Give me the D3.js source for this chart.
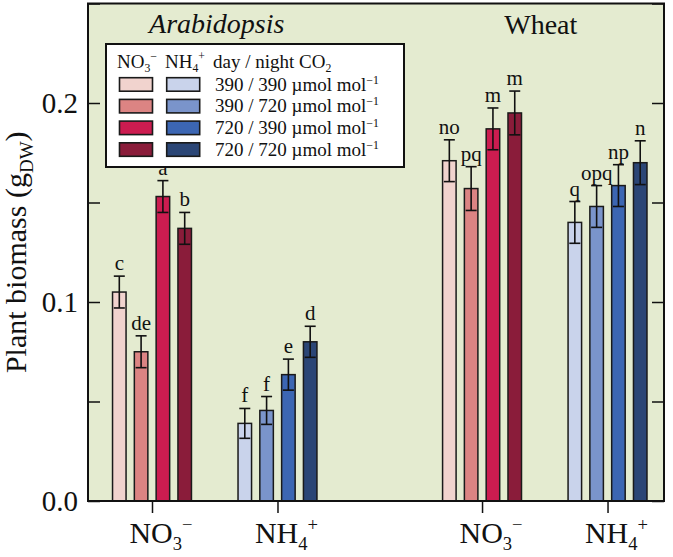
<!DOCTYPE html>
<html><head><meta charset="utf-8">
<script src="https://cdn.jsdelivr.net/npm/d3@7/dist/d3.min.js"></script>
<style>
body{margin:0;background:#fff;}
svg text{font-family:"Liberation Serif","Times New Roman",serif;fill:#111;}
</style></head>
<body>
<svg id="chart" width="673" height="557"></svg>
<script>
// ---- data ----
const species = ["Arabidopsis", "Wheat"];
const nitrogen = ["NO3", "NH4"];
const treatments = ["390 / 390", "390 / 720", "720 / 390", "720 / 720"];
const arabNO3 = [0.105, 0.075, 0.153, 0.137];
const arabNO3Err = [0.008, 0.008, 0.008, 0.008];
const arabNO3Sig = ["c", "de", "a", "b"];
const arabNH4 = [0.039, 0.0455, 0.0635, 0.080];
const arabNH4Err = [0.0075, 0.007, 0.0078, 0.0078];
const arabNH4Sig = ["f", "f", "e", "d"];
const wheatNO3 = [0.171, 0.157, 0.187, 0.195];
const wheatNO3Err = [0.0105, 0.011, 0.0105, 0.011];
const wheatNO3Sig = ["no", "pq", "m", "m"];
const wheatNH4 = [0.140, 0.148, 0.1585, 0.170];
const wheatNH4Err = [0.0105, 0.0105, 0.0105, 0.011];
const wheatNH4Sig = ["q", "opq", "np", "n"];
const yTicks = [0, 0.05, 0.1, 0.15, 0.2, 0.25];
const yLabelTicks = [0, 0.1, 0.2];
const colorsNO3 = ["#f1d3ce", "#dc8483", "#cc1c50", "#8a1c3a"];
const colorsNH4 = ["#c9d3eb", "#7a94cb", "#3c66b3", "#2b4676"];

const groupsData = [
  {sp: 0, n: 0, vals: arabNO3, err: arabNO3Err, sig: arabNO3Sig},
  {sp: 0, n: 1, vals: arabNH4, err: arabNH4Err, sig: arabNH4Sig},
  {sp: 1, n: 0, vals: wheatNO3, err: wheatNO3Err, sig: wheatNO3Sig},
  {sp: 1, n: 1, vals: wheatNH4, err: wheatNH4Err, sig: wheatNH4Sig}
];

// ---- layout ----
const L = 88, R = 664, T = 3.5, B = 501;
const groupPos = [1, 2, 3.63, 4.63];
const x = d3.scaleLinear().domain([0.49, 5.08]).range([L, R]);
const y = d3.scaleLinear().domain([0, 0.25]).range([B, T]);
const step = 21.8;
const xs = d3.scaleBand().domain(d3.range(4)).range([-2 * step, 2 * step]).paddingInner(0.38).paddingOuter(0.19);

const svg = d3.select("#chart");
svg.append("rect").attr("x", L).attr("y", T).attr("width", R - L).attr("height", B - T)
  .attr("fill", "#e4ebd0");

// axes
const gl = svg.append("g").attr("transform", `translate(${L},0)`)
  .call(d3.axisLeft(y).tickValues(yTicks).tickSize(-12).tickPadding(10)
    .tickFormat(d => yLabelTicks.some(t => Math.abs(t - d) < 1e-9) ? d3.format(".1f")(d) : ""));
gl.select(".domain").remove();
gl.selectAll(".tick line").attr("stroke", "#111").attr("stroke-width", 1.5);
gl.selectAll(".tick text").attr("font-size", 29).attr("font-family", "Liberation Serif").attr("fill", "#111");

const gr = svg.append("g").attr("transform", `translate(${R},0)`)
  .call(d3.axisRight(y).tickValues(yTicks).tickSize(-12).tickFormat(""));
gr.select(".domain").remove();
gr.selectAll(".tick line").attr("stroke", "#111").attr("stroke-width", 1.5);

const gb = svg.append("g").attr("transform", `translate(0,${B})`)
  .call(d3.axisBottom(x).tickValues(groupPos).tickSize(12).tickFormat(""));
gb.select(".domain").remove();
gb.selectAll(".tick line").attr("stroke", "#111").attr("stroke-width", 1.5);

// x labels
function ionLabel(g, n, fs) {
  if (n === 0) {
    g.append("tspan").text("NO");
    g.append("tspan").attr("font-size", fs * 0.62).attr("dy", fs * 0.22).text("3");
    g.append("tspan").attr("font-size", fs * 0.62).attr("dy", -fs * 0.62).text("\u2212");
  } else {
    g.append("tspan").text("NH");
    g.append("tspan").attr("font-size", fs * 0.62).attr("dy", fs * 0.22).text("4");
    g.append("tspan").attr("font-size", fs * 0.62).attr("dy", -fs * 0.62).text("+");
  }
}
groupsData.forEach((g, i) => {
  const t = svg.append("text").attr("x", x(groupPos[i]) + 9).attr("y", 543)
    .attr("text-anchor", "middle").attr("font-size", 30);
  ionLabel(t, g.n, 30);
});

// bars
groupsData.forEach((g, gi) => {
  const cols = g.n === 0 ? colorsNO3 : colorsNH4;
  const gg = svg.append("g").attr("transform", `translate(${x(groupPos[gi])},0)`);
  g.vals.forEach((v, k) => {
    const bx = xs(k), bw = xs.bandwidth(), cx = bx + bw / 2;
    gg.append("rect").attr("x", bx).attr("y", y(v)).attr("width", bw).attr("height", B - y(v))
      .attr("fill", cols[k]).attr("stroke", "#1a1a1a").attr("stroke-width", 1.5);
    const e = g.err[k];
    const ln = gg.append("g").attr("stroke", "#111").attr("stroke-width", 1.6);
    ln.append("line").attr("x1", cx).attr("x2", cx).attr("y1", y(v - e)).attr("y2", y(v + e));
    ln.append("line").attr("x1", cx - 5.5).attr("x2", cx + 5.5).attr("y1", y(v + e)).attr("y2", y(v + e));
    ln.append("line").attr("x1", cx - 5.5).attr("x2", cx + 5.5).attr("y1", y(v - e)).attr("y2", y(v - e));
    gg.append("text").attr("x", cx).attr("y", y(v + e) - 6).attr("text-anchor", "middle")
      .attr("font-size", 21).text(g.sig[k]);
  });
});

// border
svg.append("rect").attr("x", L).attr("y", T).attr("width", R - L).attr("height", B - T)
  .attr("fill", "none").attr("stroke", "#111").attr("stroke-width", 2);

// species titles
svg.append("text").attr("x", (x(groupPos[0]) + x(groupPos[1])) / 2 + 2).attr("y", 33)
  .attr("text-anchor", "middle").attr("font-size", 28).attr("font-style", "italic").text(species[0]);
svg.append("text").attr("x", (x(groupPos[2]) + x(groupPos[3])) / 2 - 4).attr("y", 34)
  .attr("text-anchor", "middle").attr("font-size", 28).text(species[1]);

// y label
const yl = svg.append("text").attr("transform", `translate(26,${(T + B) / 2}) rotate(-90)`)
  .attr("text-anchor", "middle").attr("font-size", 30);
yl.append("tspan").text("Plant biomass (g");
yl.append("tspan").attr("font-size", 19).attr("dy", 7).text("DW");
yl.append("tspan").attr("dy", -7).text(")");

// legend
const lg = svg.append("g");
lg.append("rect").attr("x", 106).attr("y", 44).attr("width", 298).attr("height", 123)
  .attr("fill", "#fff").attr("stroke", "#111").attr("stroke-width", 2);
const fsL = 19;
const h1 = lg.append("text").attr("x", 117).attr("y", 68).attr("font-size", fsL);
ionLabel(h1, 0, fsL);
const h2 = lg.append("text").attr("x", 165).attr("y", 68).attr("font-size", fsL);
ionLabel(h2, 1, fsL);
const h3 = lg.append("text").attr("x", 213).attr("y", 68).attr("font-size", fsL);
h3.append("tspan").text("day / night CO");
h3.append("tspan").attr("font-size", fsL * 0.62).attr("dy", 4).text("2");
treatments.forEach((t, k) => {
  const ry = 77.7 + k * 21.7;
  lg.append("rect").attr("x", 119.5).attr("y", ry).attr("width", 33).attr("height", 13.5)
    .attr("fill", colorsNO3[k]).attr("stroke", "#1a1a1a").attr("stroke-width", 1.6);
  lg.append("rect").attr("x", 166.7).attr("y", ry).attr("width", 33).attr("height", 13.5)
    .attr("fill", colorsNH4[k]).attr("stroke", "#1a1a1a").attr("stroke-width", 1.6);
  const tx = lg.append("text").attr("x", 215).attr("y", ry + 13).attr("font-size", fsL);
  tx.append("tspan").text(t + " \u00b5mol mol");
  tx.append("tspan").attr("font-size", fsL * 0.62).attr("dy", -7).text("\u22121");
});
</script>
</body></html>
